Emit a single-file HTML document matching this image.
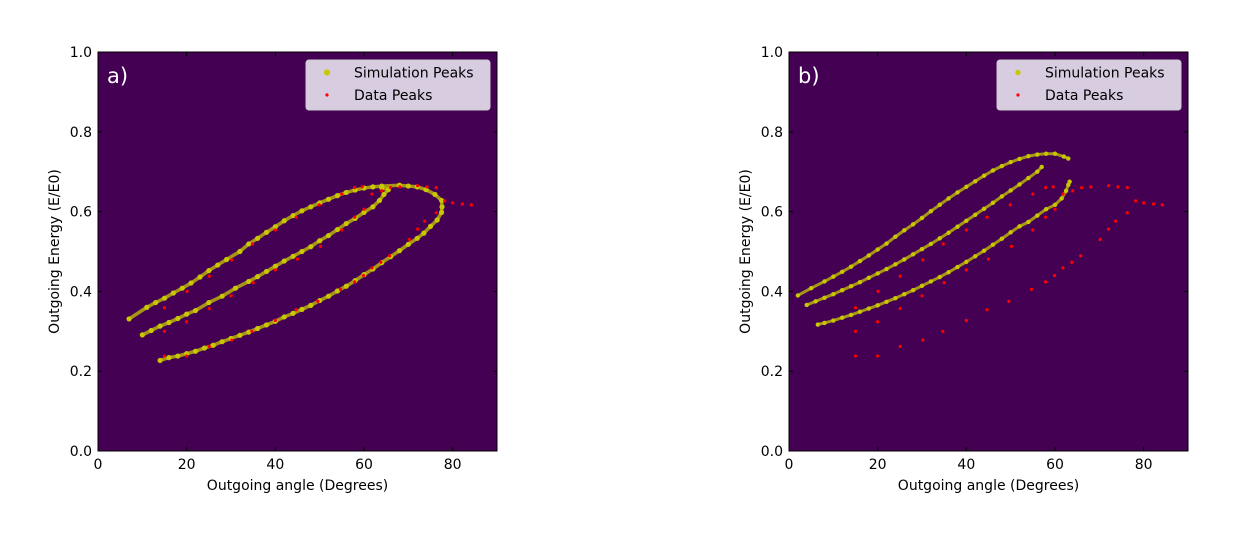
<!DOCTYPE html>
<html><head><meta charset="utf-8"><style>
body{margin:0;background:#fff;width:1250px;height:549px;overflow:hidden}
svg text{font-family:"DejaVu Sans","Liberation Sans",sans-serif;}
</style></head><body>
<svg id="fig" width="1250" height="549"></svg>
<script>
const xTicks=[0,20,40,60,80];
const yTicks=[0.0,0.2,0.4,0.6,0.8,1.0];
const dataX=[15,15,15,20.1,20,20,25.1,25.1,25.1,30.2,30,30.2,34.8,35,34.7,40,40,40,44.7,45,44.7,49.9,50.2,49.6,55,55,54.7,57.9,57.9,57.9,59.6,60,59.9,61.8,61.8,64,63.8,66,65.8,68.1,70.2,72.1,72.1,74.2,73.7,76.3,76.3,78.2,80,82.2,84.2];
const dataY=[0.359,0.300,0.238,0.400,0.324,0.238,0.438,0.357,0.262,0.479,0.389,0.278,0.519,0.422,0.300,0.554,0.454,0.327,0.586,0.481,0.354,0.617,0.513,0.375,0.644,0.554,0.405,0.660,0.586,0.424,0.662,0.606,0.440,0.644,0.459,0.652,0.473,0.660,0.489,0.662,0.530,0.665,0.556,0.662,0.576,0.660,0.597,0.627,0.622,0.619,0.617];
const simAX=[7,11,13,15,17,19,21,23,25,27,29,32,34,36,38,40,42,44,46,48,50,52,54,56,58,60,62,64,68,70,72,74,76,77.5,77.6,77.5,76.5,75,73.5,72,70,68,66,64,62,60,58,56,54,52,50,48,46,44,42,40,38,36,34,32,30,28,26,24,22,20,18,16,14,10,12,14,16,18,20,22,25,28,31,34,36,38,40,42,44,46,48,50,52,54,56,58,60,62,63.5,64.5,65.5,64];
const simAY=[0.331,0.360,0.372,0.383,0.396,0.408,0.421,0.436,0.452,0.466,0.480,0.500,0.519,0.533,0.548,0.562,0.577,0.590,0.602,0.612,0.622,0.631,0.640,0.648,0.654,0.659,0.662,0.664,0.666,0.664,0.662,0.655,0.643,0.628,0.612,0.598,0.579,0.563,0.546,0.533,0.518,0.502,0.487,0.472,0.456,0.442,0.427,0.413,0.401,0.388,0.377,0.365,0.355,0.345,0.336,0.325,0.316,0.307,0.298,0.290,0.282,0.274,0.265,0.258,0.250,0.244,0.238,0.234,0.227,0.291,0.302,0.313,0.322,0.332,0.343,0.352,0.372,0.388,0.408,0.425,0.437,0.450,0.463,0.476,0.488,0.500,0.512,0.527,0.540,0.555,0.570,0.583,0.598,0.612,0.628,0.643,0.655,0.660];
const simBX=[2,5,8,10,12,14,16,18,20,22,24,26,28,30,32,34,36,38,40,42,44,46,48,50,52,54,56,58,60,62,63,4,6,8,10,12,14,16,18,20,22,24,26,28,30,32,34,36,38,40,42,44,46,48,50,52,54,56,57,6.5,8,10,12,14,16,18,20,22,24,26,28,30,32,34,36,38,40,42,44,46,48,50,52,54,56,58,60,61.5,62.5,63,63.3];
const simBY=[0.390,0.408,0.425,0.437,0.449,0.462,0.476,0.490,0.505,0.520,0.537,0.553,0.568,0.584,0.601,0.617,0.633,0.648,0.662,0.676,0.690,0.703,0.714,0.724,0.732,0.739,0.743,0.745,0.745,0.738,0.733,0.366,0.375,0.384,0.393,0.403,0.413,0.423,0.434,0.445,0.456,0.468,0.480,0.493,0.506,0.519,0.533,0.547,0.562,0.577,0.592,0.607,0.622,0.638,0.653,0.668,0.684,0.700,0.712,0.317,0.321,0.327,0.334,0.341,0.349,0.357,0.365,0.374,0.383,0.393,0.403,0.414,0.425,0.436,0.448,0.461,0.474,0.488,0.502,0.517,0.532,0.548,0.563,0.574,0.590,0.606,0.617,0.633,0.652,0.667,0.675];

const NS='http://www.w3.org/2000/svg';
const fig=document.getElementById('fig');
function mk(tag,attrs,parent,text){const e=document.createElementNS(NS,tag);for(const k in attrs)e.setAttribute(k,attrs[k]);if(text!==undefined)e.textContent=text;(parent||fig).appendChild(e);return e;}

function panel(left,label,sx,sy,simR,lineW,name){
  const top=52,W=399,H=399;
  const X=v=>left+v/90*W, Y=v=>top+H-v*H;
  const g=mk('g',{});
  
  
  const bg=mk('rect',{x:left,y:top,width:W,height:H,fill:'#440154'},g);
  
  
  // connecting trace segments through sim peaks
  let seg=[];
  const flush=()=>{ if(seg.length>1){
      const pl=mk('polyline',{points:seg.join(' '),fill:'none',stroke:'#c8c800','stroke-width':lineW,'stroke-opacity':0.75,'stroke-linejoin':'round','stroke-linecap':'round'},g);
      
      
    } seg=[]; };
  for(let i=0;i<sx.length;i++){
    if(i>0 && (Math.abs(sx[i]-sx[i-1])>5 || Math.abs(sy[i]-sy[i-1])>0.05)) flush();
    seg.push(X(sx[i])+','+Y(sy[i]));
  }
  flush();
  for(let i=0;i<sx.length;i++){
    const c=mk('circle',{cx:X(sx[i]),cy:Y(sy[i]),r:simR,fill:'#c8c800'},g);
    
    
  }
  for(let i=0;i<dataX.length;i++){
    const c=mk('circle',{cx:X(dataX[i]),cy:Y(dataY[i]),r:1.6,fill:'#ff0000'},g);
    
    
  }
  const fr=mk('rect',{x:left,y:top,width:W,height:H,fill:'none',stroke:'#000','stroke-width':1},g);
  
  
  xTicks.forEach(t=>{
    mk('line',{x1:X(t),x2:X(t),y1:top+H,y2:top+H-4,stroke:'#000'},g);
    mk('line',{x1:X(t),x2:X(t),y1:top,y2:top+4,stroke:'#000'},g);
    const tx=mk('text',{x:X(t),y:top+H+18,'text-anchor':'middle','font-size':14,fill:'#000'},g,String(t));
    
    
  });
  yTicks.forEach(t=>{
    mk('line',{x1:left,x2:left+4,y1:Y(t),y2:Y(t),stroke:'#000'},g);
    mk('line',{x1:left+W,x2:left+W-4,y1:Y(t),y2:Y(t),stroke:'#000'},g);
    const ty=mk('text',{x:left-6,y:Y(t)+5,'text-anchor':'end','font-size':14,fill:'#000'},g,t.toFixed(1));
    
    
  });
  const xl=mk('text',{x:left+W/2,y:490,'text-anchor':'middle','font-size':14,fill:'#000'},g,'Outgoing angle (Degrees)');
  
  
  const yl=mk('text',{x:0,y:0,'text-anchor':'middle','font-size':14,fill:'#000',transform:`translate(${left-39},${top+H/2}) rotate(-90)`},g,'Outgoing Energy (E/E0)');
  
  
  const pl=mk('text',{x:left+9,y:top+31,'font-size':21,fill:'#fff','font-family':'Liberation Sans, sans-serif'},g,label);
  
  
  const lg=mk('g',{},g);
  
  
  mk('rect',{x:left+208,y:60,width:184,height:50,rx:3,fill:'#d8cce0',stroke:'#ccc'},lg);
  mk('circle',{cx:left+229,cy:72.5,r:simR+0.5,fill:'#c8c800'},lg);
  mk('circle',{cx:left+229,cy:95,r:1.6,fill:'#ff0000'},lg);
  const l1=mk('text',{x:left+256,y:77.5,'font-size':14,fill:'#000'},lg,'Simulation Peaks');
  
  
  const l2=mk('text',{x:left+256,y:100,'font-size':14,fill:'#000'},lg,'Data Peaks');
  
  
}
panel(98,'a)',simAX,simAY,2.6,3.5,'panel-a');
panel(789,'b)',simBX,simBY,2.2,3,'panel-b');
</script>
</body></html>
